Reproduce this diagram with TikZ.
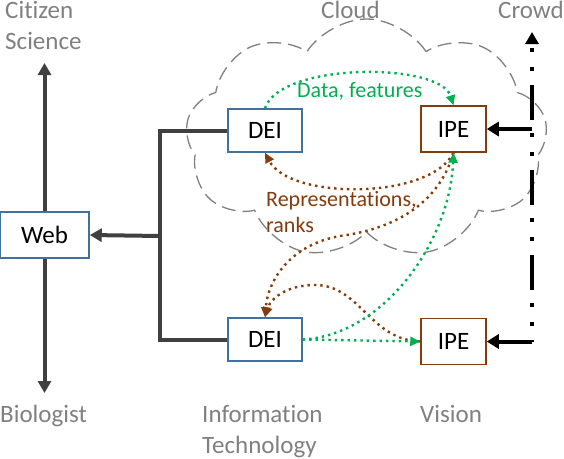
\documentclass[tikz,border=0pt]{standalone}
\usepackage{fontspec}
\setmainfont{Carlito}[Ligatures=NoCommon]
\usetikzlibrary{arrows.meta,shapes.symbols}
\definecolor{boxblue}{RGB}{65,113,156}
\definecolor{boxbrown}{RGB}{132,60,12}
\definecolor{dotgreen}{RGB}{0,176,80}
\definecolor{dotbrown}{RGB}{132,60,12}
\definecolor{lblgray}{RGB}{128,128,128}
\definecolor{linkgray}{RGB}{64,64,64}

\begin{document}
\begin{tikzpicture}[x=1pt,y=-1pt,
		bigfont/.style={font=\fontsize{25}{31}\selectfont},
		deibox/.style={bigfont,draw=boxblue,line width=1.5pt,fill=white,inner sep=0pt,minimum width=74pt,minimum height=43pt},
		ipebox/.style={bigfont,draw=boxbrown,line width=1.5pt,fill=white,inner sep=0pt,minimum width=65pt,minimum height=46pt},
		lbl/.style={bigfont,text=lblgray,align=left,inner sep=0pt,anchor=base west},
		link/.style={draw=linkgray,line width=4pt},
		crowdlink/.style={draw=black,line width=4pt},
		gdots/.style={draw=dotgreen,line width=2.4pt,dash pattern=on 2.4pt off 4pt,-{Triangle[width=9pt,length=10pt]}},
		bdots/.style={draw=dotbrown,line width=2.4pt,dash pattern=on 2.4pt off 4pt,-{Triangle[width=9pt,length=10pt]}}]
			%%%%% START %%%%%
			
			\useasboundingbox (0,0) rectangle (564,458);
			
			\node[cloud, cloud puffs=9, cloud puff arc=115, aspect=1.5, draw=lblgray, line width=1.3pt, dash pattern=on 14pt off 7pt, minimum width=362pt, minimum height=240pt] (cloud) at (366.5,139) {};
			
			\node[lbl] (citsci) at (5,49) {Citizen\\Science};
			\node[lbl] (cloudlbl) at (321,18) {Cloud};
			\node[lbl] (crowd) at (498,18) {Crowd};
			\node[lbl] (bio) at (0,422) {Biologist};
			\node[lbl] (infotech) at (202,453) {Information\\Technology};
			\node[lbl] (vision) at (420,422) {Vision};
			
			\node[deibox, minimum width=89pt, minimum height=46pt] (web) at (44.5,235) {Web};
			\node[deibox] (deiT) at (265,130.5) {DEI};
			\node[ipebox] (ipeT) at (453.5,129) {IPE};
			\node[deibox] (deiB) at (265,339.5) {DEI};
			\node[ipebox] (ipeB) at (453.5,341.5) {IPE};
			
			\coordinate (citzend) at (44.5,63);
			\coordinate (bioend) at (44.5,393);
			\coordinate (brk) at (160,236);
			\coordinate (crowdB) at (532,341.5);
			\coordinate (crowdT) at (532,32);
			
			\draw[link, -{Triangle[width=13pt,length=12pt]}] (web.north) -- (citzend);
			\draw[link, -{Triangle[width=13pt,length=12pt]}] (web.south) -- (bioend);
			\draw[link] (deiT.west) -| (brk) |- (deiB.west);
			\draw[link, -{Triangle[width=13pt,length=12pt]}] (brk) -- (web.east);
			
			\draw[crowdlink, dash pattern=on 35pt off 14pt on 4pt off 15pt on 4pt off 13pt, dash phase=33pt, -{Triangle[width=13pt,length=12pt]}] (crowdB) -- (crowdT);
			\draw[crowdlink, -{Triangle[width=14pt,length=12pt]}] (ipeT.east -| crowdB) -- (ipeT.east);
			\draw[crowdlink, -{Triangle[width=14pt,length=12pt]}] (crowdB) -- (ipeB.east);
			
			\draw[gdots] (deiT.north) .. controls (280,62) and (440,62) .. (ipeT.north)
				node[midway, below=8pt, text=dotgreen, font=\fontsize{22}{26}\selectfont, inner sep=0pt] (datalbl) {Data, features};
			\draw[bdots] (ipeT.south) .. controls (430,200) and (290,200) .. (deiT.south);
			\node[text=dotbrown, font=\fontsize{22}{26}\selectfont, align=left, inner sep=0pt, anchor=base west] (replbl) at (266,232) {Representations,\\ranks};
			\draw[bdots] (ipeT.south) .. controls (440,200) and (400,228) .. (340,236) .. controls (290,245) and (268,280) .. (deiB.north);
			\draw[bdots] (ipeB.west) .. controls (370,340) and (360,285) .. (315,285) .. controls (285,285) and (270,300) .. (deiB.north);
			\draw[gdots] (deiB.east) -- (ipeB.west);
			\draw[gdots] (deiB.east) .. controls (385,335) and (450,240) .. (ipeT.south);
			
			%%%%% END %%%%%
\end{tikzpicture}
\end{document}
